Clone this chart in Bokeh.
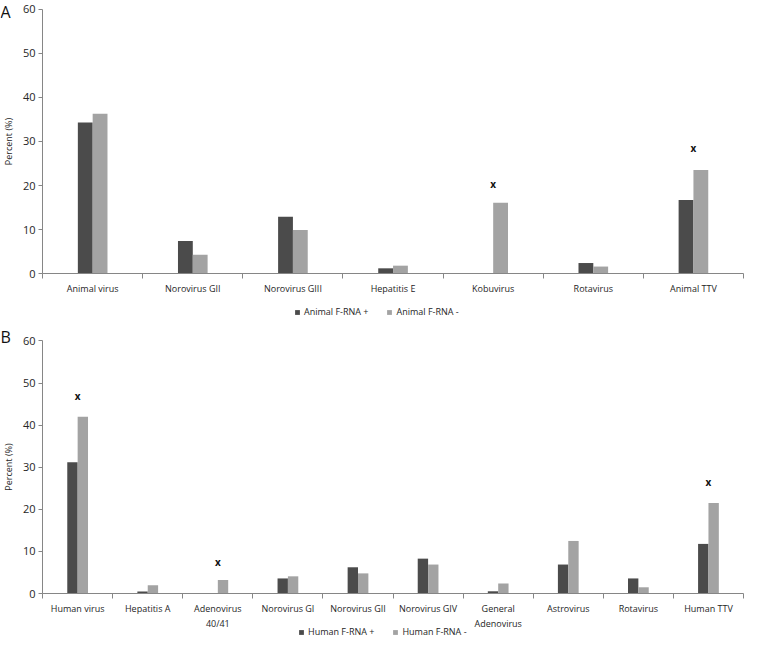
from bokeh.plotting import figure
from bokeh.models import Range1d, FixedTicker, Legend, LegendItem, Label, ColumnDataSource
from bokeh.layouts import column
from bokeh.embed import file_html
from bokeh.resources import INLINE
from bokeh.core.properties import value

# ---- Panel A data ----
a_categories = ["Animal virus", "Norovirus GII", "Norovirus GIII", "Hepatitis E",
                "Kobuvirus", "Rotavirus", "Animal TTV"]
a_pos = [34.3, 7.4, 12.9, 1.2, 0.0, 2.4, 16.7]
a_neg = [36.3, 4.3, 9.9, 1.8, 16.1, 1.6, 23.5]
a_mark_cats = ["Kobuvirus", "Animal TTV"]
a_mark_vals = [20.3, 28.5]
a_series = ["Animal F-RNA +", "Animal F-RNA -"]

# ---- Panel B data ----
b_categories = ["Human virus", "Hepatitis A", "Adenovirus\n40/41", "Norovirus GI",
                "Norovirus GII", "Norovirus GIV", "General\nAdenovirus", "Astrovirus",
                "Rotavirus", "Human TTV"]
b_pos = [31.2, 0.5, 0.0, 3.6, 6.25, 8.3, 0.55, 6.9, 3.6, 11.8]
b_neg = [42.0, 2.0, 3.2, 4.1, 4.8, 6.9, 2.4, 12.5, 1.5, 21.5]
b_mark_cats = ["Human virus", "Adenovirus\n40/41", "Human TTV"]
b_mark_vals = [46.8, 7.4, 26.4]
b_series = ["Human F-RNA +", "Human F-RNA -"]

y_ticks = [0, 10, 20, 30, 40, 50, 60]
Y_MAX = 60

DARK = "#4b4b4b"
LIGHT = "#a3a3a3"
AXIS = "#868686"
TXT = "#262626"
FONT = "Open Sans"

WIDTH = 744


def make_panel(letter, cats, pos, neg, mark_cats, mark_vals, series,
               height, top_px, zero_px, legend_loc, letter_px, left_px=42.1, right_px=1.0):
    n = len(cats)
    cw = (WIDTH - left_px - right_px) / n          # px per category
    py = (zero_px - top_px) / Y_MAX                # px per percent
    x_range = Range1d(-left_px / cw, n + right_px / cw)
    y_range = Range1d(-(height - zero_px) / py, Y_MAX + top_px / py)

    p = figure(width=WIDTH, height=height, output_backend="svg", toolbar_location=None,
               x_range=x_range, y_range=y_range,
               min_border_left=0, min_border_right=0,
               min_border_top=0, min_border_bottom=0)
    p.outline_line_color = None
    p.xgrid.visible = False
    p.ygrid.visible = False
    p.background_fill_color = "white"
    p.border_fill_color = "white"

    w = 0.148
    centers = [i + 0.5 for i in range(n)]
    src = ColumnDataSource(dict(
        xd=[c - w / 2 for c in centers], xl=[c + w / 2 for c in centers],
        pos=pos, neg=neg))
    r1 = p.vbar(x="xd", top="pos", bottom=0, width=w, source=src,
                fill_color=DARK, line_color=None)
    r2 = p.vbar(x="xl", top="neg", bottom=0, width=w, source=src,
                fill_color=LIGHT, line_color=None)

    mx = [cats.index(c) + 0.5 for c in mark_cats]
    p.text(x=mx, y=mark_vals, text=["x"] * len(mx), text_align="center",
           text_baseline="middle", text_font=value(FONT), text_font_style="bold",
           text_font_size="10px", text_color="#111111")

    # x axis: labels at centres, ticks at category boundaries
    xa = p.xaxis[0]
    xa.fixed_location = 0
    xa.bounds = (0, n)
    xa.ticker = FixedTicker(ticks=centers, minor_ticks=list(range(n + 1)))
    xa.major_label_overrides = {c: lab for c, lab in zip(centers, cats)}
    xa.major_tick_line_color = None
    xa.major_tick_out = 5
    xa.major_tick_in = 0
    xa.minor_tick_out = 5
    xa.minor_tick_in = 0
    xa.minor_tick_line_color = AXIS
    xa.axis_line_color = AXIS
    xa.major_label_standoff = 3
    xa.major_label_text_font = FONT
    xa.major_label_text_font_size = "9px"
    xa.major_label_text_color = TXT

    ya = p.yaxis[0]
    ya.fixed_location = 0
    ya.bounds = (0, Y_MAX)
    ya.ticker = FixedTicker(ticks=y_ticks, minor_ticks=[])
    ya.major_tick_out = 4
    ya.major_tick_in = 0
    ya.major_tick_line_color = AXIS
    ya.axis_line_color = AXIS
    ya.major_label_text_font = FONT
    ya.major_label_text_font_size = "11px"
    ya.major_label_text_color = TXT
    ya.major_label_standoff = 3
    ya.axis_label = "Percent (%)"
    ya.axis_label_text_font = FONT
    ya.axis_label_text_font_size = "9px"
    ya.axis_label_text_font_style = "normal"
    ya.axis_label_text_color = TXT
    ya.axis_label_standoff = 5

    legend = Legend(items=[LegendItem(label=series[0], renderers=[r1]),
                           LegendItem(label=series[1], renderers=[r2])],
                    orientation="horizontal", location=legend_loc,
                    glyph_width=6, glyph_height=6, label_standoff=4, spacing=18,
                    padding=0, margin=0, border_line_color=None,
                    background_fill_alpha=0,
                    label_text_font=FONT, label_text_font_size="9px",
                    label_text_color=TXT, label_height=12)
    p.add_layout(legend, "center")

    lx, ly = letter_px
    p.add_layout(Label(x=(lx - left_px) / cw, y=Y_MAX + (top_px - ly) / py,
                       text=letter, text_font=FONT, text_font_size="16px",
                       text_color="#111111", text_baseline="top", text_align="left"))
    return p


pa = make_panel("A", a_categories, a_pos, a_neg, a_mark_cats, a_mark_vals, a_series,
                height=322, top_px=8.8, zero_px=273.1, legend_loc=(294, 4),
                letter_px=(0, 0.5))
pb = make_panel("B", b_categories, b_pos, b_neg, b_mark_cats, b_mark_vals, b_series,
                height=316, top_px=18.4, zero_px=271.1, legend_loc=(298, 0),
                letter_px=(0, 3.5))

layout = column(pa, pb)
open("out.html", "w").write(file_html(layout, INLINE))
